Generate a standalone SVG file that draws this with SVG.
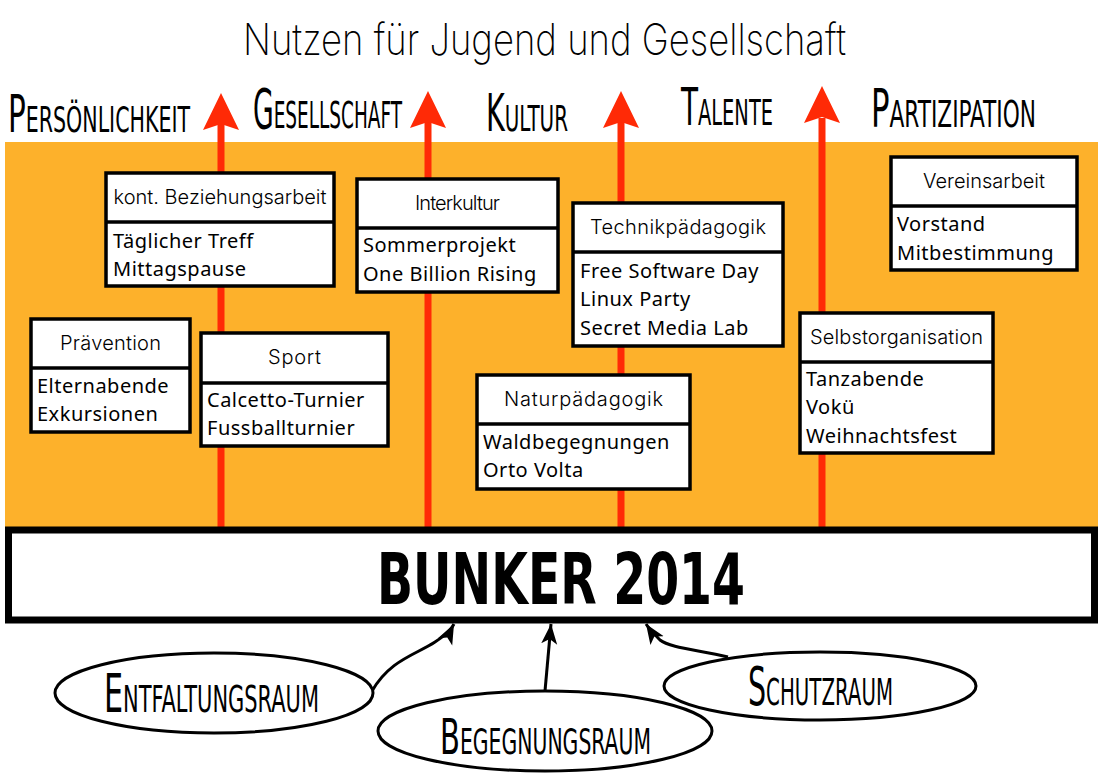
<svg xmlns="http://www.w3.org/2000/svg" width="1098" height="780" viewBox="0 0 1098 780">
<defs>
<style>
.box{fill:#fff;stroke:#000;stroke-width:3.5}
.div{stroke:#000;stroke-width:3.5}
.hd{font-family:Inter,"DejaVu Sans",sans-serif;font-weight:300;font-size:20px;text-anchor:middle;fill:#000}
.it{font-family:"Noto Sans","Open Sans",sans-serif;font-size:20px;letter-spacing:0.5px;fill:#000}
.sc{font-family:"DejaVu Sans Condensed","DejaVu Sans",sans-serif;font-variant:small-caps;fill:#000}
.red{stroke:#FF2A06;stroke-width:7;fill:none}
.redh{fill:#FF2A06}
.con{stroke:#000;stroke-width:3;fill:none}
</style>
<marker id="ah" markerUnits="userSpaceOnUse" markerWidth="30" markerHeight="30" refX="20" refY="10" orient="auto" viewBox="0 0 30 20">
<path d="M20,10 L0,2 L5,10 L0,18 z" fill="#000"/>
</marker>
</defs>
<rect width="1098" height="780" fill="#fff"/>
<text x="243" y="55" font-family="Inter,'DejaVu Sans',sans-serif" font-weight="200" font-size="44" textLength="603" lengthAdjust="spacingAndGlyphs">Nutzen für Jugend und Gesellschaft</text>
<g id="headings">
<text class="sc" transform="translate(8,132) scale(1,1.85)" font-size="28" textLength="182" lengthAdjust="spacingAndGlyphs">Persönlichkeit</text>
<text class="sc" transform="translate(253,128) scale(1,1.95)" font-size="28" textLength="149" lengthAdjust="spacingAndGlyphs">Gesellschaft</text>
<text class="sc" transform="translate(486,131) scale(1,1.85)" font-size="28" textLength="82" lengthAdjust="spacingAndGlyphs">Kultur</text>
<text class="sc" transform="translate(681,125) scale(1,1.85)" font-size="28" textLength="92" lengthAdjust="spacingAndGlyphs">Talente</text>
<text class="sc" transform="translate(871,127) scale(1,1.9)" font-size="28" textLength="165" lengthAdjust="spacingAndGlyphs">Partizipation</text>
</g>
<rect id="band" x="5" y="142" width="1093" height="390" fill="#FDB12B"/>
<g id="axes">
<line class="red" x1="221" y1="530" x2="221" y2="122"/>
<polygon class="redh" points="221,93 239,130 221,124 203,130"/>
<line class="red" x1="428" y1="530" x2="428" y2="122"/>
<polygon class="redh" points="428,91 446,128 428,122 410,128"/>
<line class="red" x1="621" y1="530" x2="621" y2="122"/>
<polygon class="redh" points="621,91 639,128 621,122 603,128"/>
<line class="red" x1="822" y1="530" x2="822" y2="118"/>
<polygon class="redh" points="822,86 840,123 822,117 804,123"/>
</g>
<g id="n-beziehung">
<rect class="box" x="106" y="173" width="228" height="113"/>
<line class="div" x1="106" y1="222" x2="334" y2="222"/>
<text class="hd" x="220" y="204" textLength="213">kont. Beziehungsarbeit</text>
<text class="it" x="113" y="248">Täglicher Treff</text>
<text class="it" x="113" y="276">Mittagspause</text>
</g>
<g id="n-praevention">
<rect class="box" x="31" y="319" width="159" height="113"/>
<line class="div" x1="31" y1="368" x2="190" y2="368"/>
<text class="hd" x="110.5" y="350" textLength="101">Prävention</text>
<text class="it" x="37" y="393">Elternabende</text>
<text class="it" x="37" y="421">Exkursionen</text>
</g>
<g id="n-sport">
<rect class="box" x="201" y="333" width="187" height="113"/>
<line class="div" x1="201" y1="383" x2="388" y2="383"/>
<text class="hd" x="294.5" y="364" textLength="53">Sport</text>
<text class="it" x="207" y="407">Calcetto-Turnier</text>
<text class="it" x="207" y="435">Fussballturnier</text>
</g>
<g id="n-interkultur">
<rect class="box" x="357" y="179" width="201" height="113"/>
<line class="div" x1="357" y1="228" x2="558" y2="228"/>
<text class="hd" x="457.5" y="210" textLength="85">Interkultur</text>
<text class="it" x="363" y="252">Sommerprojekt</text>
<text class="it" x="363" y="281">One Billion Rising</text>
</g>
<g id="n-technik">
<rect class="box" x="573" y="203" width="210" height="143"/>
<line class="div" x1="573" y1="252" x2="783" y2="252"/>
<text class="hd" x="678" y="234" textLength="176">Technikpädagogik</text>
<text class="it" x="580" y="278">Free Software Day</text>
<text class="it" x="580" y="306">Linux Party</text>
<text class="it" x="580" y="335">Secret Media Lab</text>
</g>
<g id="n-natur">
<rect class="box" x="477" y="375" width="213" height="114"/>
<line class="div" x1="477" y1="424" x2="690" y2="424"/>
<text class="hd" x="583.5" y="406" textLength="159">Naturpädagogik</text>
<text class="it" x="483" y="449">Waldbegegnungen</text>
<text class="it" x="483" y="477">Orto Volta</text>
</g>
<g id="n-selbst">
<rect class="box" x="800" y="313" width="193" height="140"/>
<line class="div" x1="800" y1="362" x2="993" y2="362"/>
<text class="hd" x="896.5" y="344" textLength="173">Selbstorganisation</text>
<text class="it" x="806" y="386">Tanzabende</text>
<text class="it" x="806" y="414">Vokü</text>
<text class="it" x="806" y="443">Weihnachtsfest</text>
</g>
<g id="n-verein">
<rect class="box" x="891" y="157" width="186" height="113"/>
<line class="div" x1="891" y1="206" x2="1077" y2="206"/>
<text class="hd" x="984" y="188" textLength="122">Vereinsarbeit</text>
<text class="it" x="897" y="231">Vorstand</text>
<text class="it" x="897" y="260">Mitbestimmung</text>
</g>
<g id="n-bunker">
<rect x="8.5" y="530" width="1086" height="90" fill="#fff" stroke="#000" stroke-width="7"/>
<text transform="translate(377,604) scale(1,1.37)" font-family="'DejaVu Sans Condensed','DejaVu Sans',sans-serif" font-weight="bold" font-size="52" textLength="368" lengthAdjust="spacingAndGlyphs">BUNKER 2014</text>
</g>
<g id="connectors">
<path class="con" d="M372,691 C390,660 415,655 435,642 C447,634 451,630 454,624" marker-end="url(#ah)"/>
<path class="con" d="M545,691 L551,624" marker-end="url(#ah)"/>
<path class="con" d="M728,657 C700,650 670,648 660,640 C654,634 650,630 646,624" marker-end="url(#ah)"/>
</g>
<g id="n-entfaltung">
<ellipse cx="214" cy="693" rx="159" ry="40" fill="#fff" stroke="#000" stroke-width="3"/>
<text class="sc" transform="translate(104,712) scale(1,1.7)" font-size="31" textLength="215" lengthAdjust="spacingAndGlyphs">Entfaltungsraum</text>
</g>
<g id="n-begegnung">
<ellipse cx="545" cy="731" rx="167" ry="40" fill="#fff" stroke="#000" stroke-width="3"/>
<text class="sc" transform="translate(440,754) scale(1,1.6)" font-size="31" textLength="211" lengthAdjust="spacingAndGlyphs">Begegnungsraum</text>
</g>
<g id="n-schutz">
<ellipse cx="820" cy="686" rx="156" ry="34" fill="#fff" stroke="#000" stroke-width="3"/>
<text class="sc" transform="translate(748,705) scale(1,1.7)" font-size="31" textLength="145" lengthAdjust="spacingAndGlyphs">Schutzraum</text>
</g>
</svg>
